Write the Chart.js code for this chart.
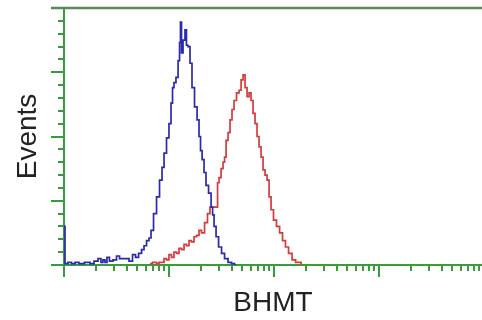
<!DOCTYPE html>
<html>
<head>
<meta charset="utf-8">
<script src="https://cdn.jsdelivr.net/npm/chart.js@4/dist/chart.umd.min.js"></script>
<style>
  html, body { margin: 0; padding: 0; background: #fff; }
  #wrap { width: 482px; height: 320px; position: relative; }
</style>
</head>
<body>
<div id="wrap"><canvas id="chart"></canvas></div>
<script>
/* ---------- dados do histograma (intensidade log, eventos) ---------- */
const controlIntensity = [1.0, 1.045, 1.14, 1.22, 1.33, 1.45, 1.69, 1.85, 2.02, 2.20, 2.30, 2.40, 2.51, 2.62, 2.80,
  3.06, 3.27, 3.49, 3.65, 3.98, 4.35, 4.64, 4.96, 5.30, 5.65, 5.91, 6.31, 6.59, 6.89, 7.36, 7.86, 8.39, 8.77,
  9.16, 9.78, 10.2, 10.7, 10.9, 11.4, 11.9, 12.5, 12.7, 13.0, 13.3, 13.9, 14.5, 14.8, 15.5, 16.2, 16.9, 18.1,
  18.9, 19.7, 20.2, 21.1, 22.0, 23.0, 24.6, 25.7, 26.3, 27.4, 28.7, 30.6, 32.7, 34.9, 38.1, 40.7, 43.5];
const controlEvents = [30, 1, 2, 1, 2, 1, 2, 1, 3, 5, 2, 4, 2, 6, 3,
  4, 7, 5, 5, 5, 3, 8, 6, 9, 12, 15, 19, 21, 27, 40, 53, 66, 76,
  87, 99, 110, 126, 138, 142, 146, 159, 173, 189, 165, 175, 183, 171, 170, 157, 138, 123,
  113, 100, 89, 82, 72, 62, 56, 45, 39, 30, 22, 14, 9, 5, 2, 1, 0];

const bhmtIntensity = [6.59, 7.36, 7.86, 8.21, 8.77, 9.16, 9.78, 10.2, 10.9, 11.4, 12.2, 12.7, 13.6, 14.2, 15.2,
  15.8, 16.9, 17.7, 18.9, 19.7, 21.1, 22.5, 24.0, 25.1, 26.8, 28.7, 29.3, 30.6, 32.0, 33.4, 34.2, 35.7, 37.3,
  38.9, 40.7, 42.5, 45.4, 47.5, 49.6, 51.8, 54.1, 56.6, 59.1, 61.7, 64.5, 67.4, 70.4, 73.6, 76.9, 80.3, 83.9,
  87.7, 91.6, 95.7, 102, 109, 117, 124, 133, 142, 155, 166, 177, 185];
const bhmtEvents = [1, 2, 1, 2, 2, 5, 4, 8, 6, 10, 9, 13, 12, 16, 15,
  19, 18, 22, 23, 27, 25, 33, 40, 45, 45, 45, 64, 68, 75, 80, 84, 97, 103,
  113, 121, 128, 134, 136, 144, 148, 138, 131, 134, 128, 118, 110, 100, 92, 84, 74, 70,
  66, 53, 43, 35, 30, 25, 19, 14, 9, 4, 2, 2, 0];

const xMin = 1;
const xMax = 9550;
const yMax = 200;
const yMajorStep = 50;
const yMinorStep = 10;

const AXIS_GREEN = '#3b9a3b';
const FRAME_GREEN = '#5a885a';

const toPoints = (xs, ys) => xs.map((x, i) => ({ x, y: ys[i] }));

/* ---------- marcas dos eixos (maiores e menores) + moldura superior ---------- */
const tickMarks = {
  id: 'tickMarks',
  afterDraw(chart) {
    const { ctx, chartArea, scales } = chart;
    ctx.save();
    ctx.strokeStyle = AXIS_GREEN;
    ctx.lineWidth = 2;

    // eixo x: décadas log
    for (let e = 0; e <= 4; e++) {
      for (let k = 1; k <= 9; k++) {
        const v = k * Math.pow(10, e);
        if (v < xMin || v > xMax) continue;
        const px = Math.round(scales.x.getPixelForValue(v));
        const len = k === 1 ? 12 : 6;
        ctx.beginPath();
        ctx.moveTo(px, chartArea.bottom);
        ctx.lineTo(px, chartArea.bottom + len);
        ctx.stroke();
      }
    }

    // eixo y
    for (let v = 0; v <= yMax; v += yMinorStep) {
      const py = Math.round(scales.y.getPixelForValue(v));
      const len = v % yMajorStep === 0 ? 13 : 6;
      ctx.beginPath();
      ctx.moveTo(chartArea.left, py);
      ctx.lineTo(chartArea.left - len, py);
      ctx.stroke();
    }

    // linha superior
    ctx.strokeStyle = FRAME_GREEN;
    ctx.lineWidth = 2.5;
    ctx.beginPath();
    ctx.moveTo(chartArea.left - 13, chartArea.top);
    ctx.lineTo(chartArea.right, chartArea.top);
    ctx.stroke();
    ctx.restore();
  }
};

new Chart(document.getElementById('chart'), {
  type: 'line',
  data: {
    datasets: [
      {
        label: 'Controle',
        data: toPoints(controlIntensity, controlEvents),
        borderColor: '#2a2ab0',
        borderWidth: 1.7,
        pointRadius: 0,
        stepped: 'middle',
        fill: false
      },
      {
        label: 'BHMT',
        data: toPoints(bhmtIntensity, bhmtEvents),
        borderColor: '#d43c3c',
        borderWidth: 1.7,
        pointRadius: 0,
        stepped: 'middle',
        fill: false
      }
    ]
  },
  options: {
    responsive: true,
    maintainAspectRatio: false,
    animation: false,
    layout: { padding: { top: 8, right: 0, left: 0, bottom: 0 } },
    plugins: { legend: { display: false }, tooltip: { enabled: false } },
    scales: {
      x: {
        type: 'logarithmic',
        min: xMin,
        max: xMax,
        grid: { display: false },
        ticks: { display: false },
        border: { display: true, color: AXIS_GREEN, width: 2 },
        title: {
          display: true,
          text: 'BHMT',
          color: '#222',
          font: { family: "'Liberation Sans', Arial, sans-serif", size: 28 },
          padding: { top: 4, bottom: 0 }
        },
        afterFit: (s) => { s.height = 55; }
      },
      y: {
        min: 0,
        max: yMax,
        grid: { display: false },
        ticks: { display: false },
        border: { display: true, color: AXIS_GREEN, width: 2 },
        title: {
          display: true,
          text: 'Events',
          color: '#222',
          font: { family: "'Liberation Sans', Arial, sans-serif", size: 28 },
          padding: { top: 11, bottom: 0 }
        },
        afterFit: (s) => { s.width = 64; }
      }
    }
  },
  plugins: [tickMarks]
});
</script>
</body>
</html>
